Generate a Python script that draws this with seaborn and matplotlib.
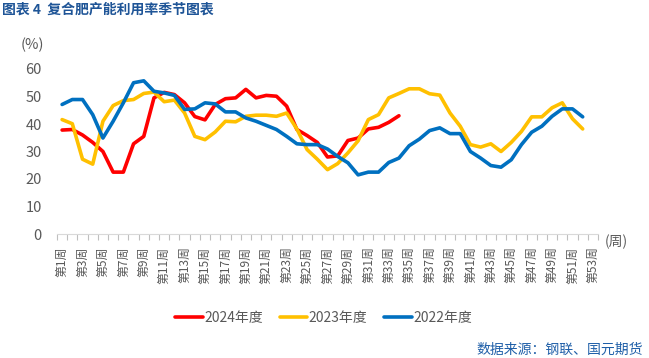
import numpy as np
import pandas as pd
import matplotlib
matplotlib.use("Agg")
import matplotlib.pyplot as plt
import seaborn as sns
from matplotlib.lines import Line2D

# ---------------- data ----------------
weeks_all = list(range(1, 54))
tick_weeks = list(range(1, 54, 2))
tick_labels = [f"第{w}周" for w in tick_weeks]

series_names = ["2024年度", "2023年度", "2022年度"]
series_colors = ["#FF0000", "#FFC000", "#0070C0"]

v2024 = [37.8, 38.0, 36.0, 33.3, 30.0, 22.5, 22.5, 32.8, 35.5, 49.5,
         51.5, 50.7, 47.7, 42.7, 41.5, 47.1, 49.2, 49.5, 52.6, 49.5,
         50.4, 50.1, 46.5, 38.0, 35.8, 33.3, 28.0, 28.4, 34.0, 34.9,
         38.2, 38.8, 40.6, 43.0]
v2023 = [41.6, 40.1, 27.2, 25.4, 41.0, 46.7, 48.5, 48.9, 51.1, 51.6,
         48.1, 48.7, 44.0, 35.5, 34.3, 37.1, 41.0, 40.8, 42.8, 43.2,
         43.2, 42.8, 44.0, 38.2, 30.7, 27.2, 23.4, 25.6, 29.5, 33.9,
         41.6, 43.4, 49.5, 51.1, 52.8, 52.8, 51.0, 50.5, 44.0, 39.2,
         32.5, 31.6, 32.8, 30.0, 33.3, 37.3, 42.6, 42.6, 45.9, 47.7,
         41.9, 38.2]
v2022 = [47.1, 48.9, 48.9, 43.4, 34.9, 41.0, 47.7, 55.0, 55.7, 51.9,
         51.3, 50.4, 45.3, 45.5, 47.7, 47.3, 44.4, 44.4, 42.2, 41.0,
         39.5, 38.0, 35.5, 32.8, 32.5, 32.5, 30.9, 28.2, 25.9, 21.5,
         22.5, 22.5, 26.0, 27.6, 32.1, 34.5, 37.6, 38.6, 36.5, 36.5,
         30.0, 27.6, 24.9, 24.3, 27.0, 32.5, 37.0, 39.2, 42.8, 45.5,
         45.5, 42.6]

frames = []
for name, vals in zip(series_names, [v2024, v2023, v2022]):
    frames.append(pd.DataFrame({"week": weeks_all[:len(vals)],
                                "value": vals, "series": name}))
df = pd.concat(frames, ignore_index=True)

# ---------------- style ----------------
sns.set_theme(style="white")
plt.rcParams["font.family"] = ["Noto Sans CJK SC", "DejaVu Sans"]
plt.rcParams["axes.unicode_minus"] = False

gray = "#595959"
fig = plt.figure(figsize=(6.49, 3.58), dpi=100)
ax = fig.add_axes([57 / 649, 1 - 234 / 358, (598 - 57) / 649, (234 - 69) / 358])

sns.lineplot(data=df, x="week", y="value", hue="series",
             hue_order=series_names, palette=dict(zip(series_names, series_colors)),
             linewidth=2.6, ax=ax, legend=False)

ax.set_xlim(0.5, 53.5)
ax.set_ylim(0, 60)
ax.set_xlabel("")
ax.set_ylabel("")

# y axis
ax.set_yticks(range(0, 61, 10))
ax.tick_params(axis="y", length=0, pad=11, labelsize=10.5, labelcolor=gray)

# x axis
ax.set_xticks(tick_weeks)
ax.set_xticklabels(tick_labels, rotation=90, fontsize=8.6, color=gray)
ax.set_xticks(np.arange(0.5, 53.6, 1.0), minor=True)
ax.tick_params(axis="x", which="major", length=0, pad=9)
ax.tick_params(axis="x", which="minor", length=4, width=0.8, color="#BFBFBF",
               direction="out", bottom=True)

for s in ["top", "right", "left"]:
    ax.spines[s].set_visible(False)
ax.spines["bottom"].set_color("#D9D9D9")
ax.spines["bottom"].set_linewidth(0.8)
ax.grid(False)

# unit labels
fig.text(32.5 / 649, 1 - 45 / 358, "(%)", fontsize=10.5, color=gray,
         ha="center", va="center")
fig.text(616 / 649, 1 - 242 / 358, "(周)", fontsize=10, color=gray,
         ha="center", va="center")

# title & source
fig.text(2 / 649, 1 - 10 / 358, "图表 4  复合肥产能利用率季节图表", fontsize=10,
         color="#1F5597", fontweight="bold", ha="left", va="center")
fig.text(643 / 649, 1 - 350 / 358, "数据来源：钢联、国元期货", fontsize=10,
         color="#1F5FA8", ha="right", va="center")

# legend
handles = [Line2D([0], [0], color=c, linewidth=2.6) for c in series_colors]
leg = fig.legend(handles, series_names, loc="center",
                 bbox_to_anchor=(323.5 / 649, 1 - 318 / 358), ncol=3,
                 frameon=False, fontsize=10, handlelength=2.0,
                 handletextpad=0.1, columnspacing=1.2)
for t in leg.get_texts():
    t.set_color(gray)

fig.savefig("out.png", dpi=100)
